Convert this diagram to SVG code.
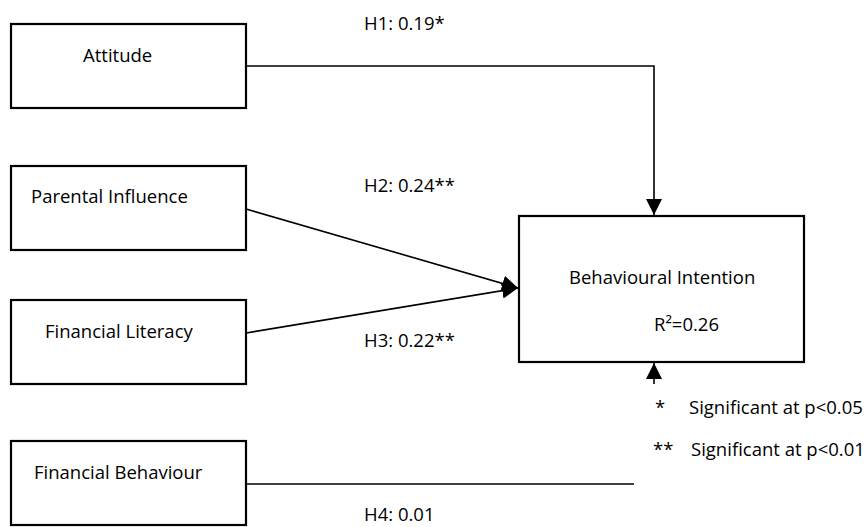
<svg xmlns="http://www.w3.org/2000/svg" width="866" height="527" viewBox="0 0 866 527">
<style>
  .box { fill: #ffffff; stroke: #000000; stroke-width: 2.2; }
  .lbl { font-family: "Open Sans", "Liberation Sans", sans-serif; font-size: 18.5px; fill: #000000; }
  .conn { fill: none; stroke: #000000; stroke-width: 1.6; }
</style>
<defs>
  <marker id="arr" markerUnits="userSpaceOnUse" markerWidth="16" markerHeight="16" viewBox="0 0 15 15" refX="15" refY="7.5" orient="auto">
    <path d="M0,0 L15,7.5 L0,15 Z" fill="#000000"/>
  </marker>
</defs>
<rect width="866" height="527" fill="#ffffff"/>
<g id="connectors">
  <path class="conn" d="M246,66 H654 V215" marker-end="url(#arr)"/>
  <path class="conn" d="M246,209 L518,288" marker-end="url(#arr)"/>
  <path class="conn" d="M246,333 L518,288" marker-end="url(#arr)"/>
  <path class="conn" d="M246,484 H634"/>
  <path class="conn" d="M654,384 V363" marker-end="url(#arr)"/>
  <text class="lbl" x="364" y="30">H1: 0.19*</text>
  <text class="lbl" x="364" y="192">H2: 0.24**</text>
  <text class="lbl" x="364" y="347">H3: 0.22**</text>
  <text class="lbl" x="364" y="521">H4: 0.01</text>
</g>
<g id="attitude">
  <rect class="box" x="11" y="24" width="235" height="84"/>
  <text class="lbl" x="83" y="61.5">Attitude</text>
</g>
<g id="parental-influence">
  <rect class="box" x="11" y="166" width="235" height="84"/>
  <text class="lbl" x="31" y="203">Parental Influence</text>
</g>
<g id="financial-literacy">
  <rect class="box" x="11" y="300" width="235" height="84"/>
  <text class="lbl" x="45" y="338">Financial Literacy</text>
</g>
<g id="financial-behaviour">
  <rect class="box" x="11" y="441" width="235" height="84"/>
  <text class="lbl" x="34" y="479">Financial Behaviour</text>
</g>
<g id="behavioural-intention">
  <rect class="box" x="519" y="216" width="285" height="146"/>
  <text class="lbl" x="569" y="284">Behavioural Intention</text>
  <text class="lbl" x="654" y="331">R²=0.26</text>
</g>
<g id="legend">
  <text class="lbl" x="655" y="414">*</text>
  <text class="lbl" x="689" y="414">Significant at p&lt;0.05</text>
  <text class="lbl" x="653" y="456">**</text>
  <text class="lbl" x="691" y="456">Significant at p&lt;0.01</text>
</g>
</svg>
